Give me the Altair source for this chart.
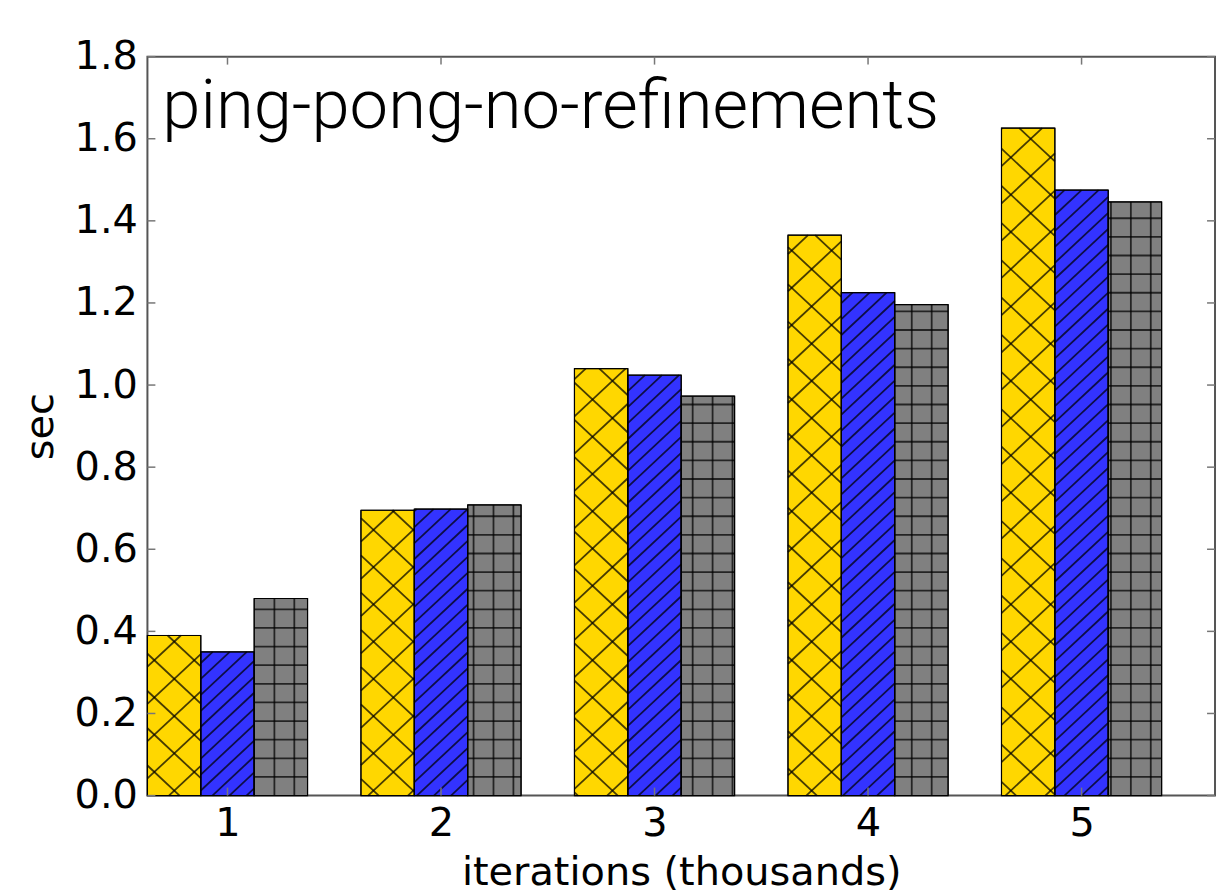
import math
import altair as alt
import pandas as pd

# ---------------- data ----------------
iterations = [1, 2, 3, 4, 5]
series_names = ["yellow", "blue", "gray"]
yellow_vals = [0.39, 0.695, 1.04, 1.365, 1.626]
blue_vals = [0.35, 0.698, 1.024, 1.225, 1.475]
gray_vals = [0.48, 0.708, 0.973, 1.196, 1.446]
bar_colors = ["#FFD700", "#3333FF", "#808080"]
hatch_kinds = ["x", "/", "+"]
y_tick_values = [0.0, 0.2, 0.4, 0.6, 0.8, 1.0, 1.2, 1.4, 1.6, 1.8]
x_tick_values = [1, 2, 3, 4, 5]
chart_label = "ping-pong-no-refinements"
x_title = "iterations (thousands)"
y_title = "sec"

# ---------------- layout ----------------
W, H = 1072, 742
XMIN, XMAX = 0.625, 5.625
YMAX = 1.8
BAR_W = 0.25
offsets = [-0.25, 0.0, 0.25]
SX = W / (XMAX - XMIN)   # px per x unit
SY = H / YMAX            # px per y unit

HX, HY = 20.0, 18.7      # hatch cell size in pixels

values_by_series = [yellow_vals, blue_vals, gray_vals]

bar_rows = []
for s, name in enumerate(series_names):
    for i, it in enumerate(iterations):
        x0 = it + offsets[s] - BAR_W / 2
        bar_rows.append({"series": name, "iteration": it, "x0": x0,
                         "x1": x0 + BAR_W, "value": values_by_series[s][i]})
bars_df = pd.DataFrame(bar_rows)


def clip_line(m, c, px0, px1, top):
    if m > 0:
        lo, hi = (0 - c) / m, (top - c) / m
    else:
        lo, hi = (top - c) / m, (0 - c) / m
    lo, hi = max(lo, px0), min(hi, px1)
    if hi - lo <= 0.5:
        return None
    return (lo, m * lo + c, hi, m * hi + c)


def diag_family(m, step, phase, px0, px1, top):
    segs = []
    corners = [py - m * px for px in (px0, px1) for py in (0, top)]
    cmin, cmax = min(corners), max(corners)
    k0 = math.ceil((cmin - phase) / step)
    k1 = math.floor((cmax - phase) / step)
    for k in range(k0, k1 + 1):
        seg = clip_line(m, phase + k * step, px0, px1, top)
        if seg:
            segs.append(seg)
    return segs


hatch_rows = []
for r in bar_rows:
    s = series_names.index(r["series"])
    kind = hatch_kinds[s]
    px0 = (r["x0"] - XMIN) * SX
    px1 = (r["x1"] - XMIN) * SX
    top = r["value"] * SY
    segs = []
    m = HY / HX
    if kind == "x":
        segs += diag_family(m, 2 * HY, -20.2, px0, px1, top)
        segs += diag_family(-m, 2 * HY, 30.2, px0, px1, top)
    elif kind == "/":
        segs += diag_family(m, 16.0, 3.0, px0, px1, top)
    else:
        k0 = math.ceil((px0 - 7.5) / HX)
        k1 = math.floor((px1 - 7.5) / HX)
        for k in range(k0, k1 + 1):
            px = 7.5 + k * HX
            if px0 + 0.5 < px < px1 - 0.5:
                segs.append((px, 0, px, top))
        k = 1
        while k * HY < top - 0.5:
            segs.append((px0, k * HY, px1, k * HY))
            k += 1
    for (a, b, c, d) in segs:
        hatch_rows.append({"hx": XMIN + a / SX, "hy": b / SY,
                           "hx2": XMIN + c / SX, "hy2": d / SY,
                           "series": r["series"]})
hatch_df = pd.DataFrame(hatch_rows)

xscale = alt.Scale(domain=[XMIN, XMAX], nice=False, zero=False)
yscale = alt.Scale(domain=[0, YMAX], nice=False)

bars = alt.Chart(bars_df).mark_bar(stroke="black", strokeWidth=1).encode(
    x=alt.X("x0:Q", scale=xscale, title=x_title,
            axis=alt.Axis(values=x_tick_values, format="d", title=x_title,
                          labelPadding=8, titlePadding=9, labelFlush=False)),
    x2="x1:Q",
    y=alt.Y("value:Q", scale=yscale, title=y_title,
            axis=alt.Axis(values=y_tick_values, format=".1f", title=y_title,
                          labelPadding=10, titlePadding=14)),
    y2=alt.datum(0),
    color=alt.Color("series:N", scale=alt.Scale(domain=series_names, range=bar_colors),
                    legend=None),
)

hatch = alt.Chart(hatch_df).mark_rule(color="black", strokeWidth=1.8, opacity=0.72).encode(
    x=alt.X("hx:Q", scale=xscale, title=x_title),
    x2="hx2:Q",
    y=alt.Y("hy:Q", scale=yscale, title=y_title),
    y2="hy2:Q",
)

outline = alt.Chart(bars_df).mark_bar(fillOpacity=0, stroke="black", strokeWidth=1.2).encode(
    x=alt.X("x0:Q", scale=xscale, title=x_title),
    x2="x1:Q",
    y=alt.Y("value:Q", scale=yscale, title=y_title),
    y2=alt.datum(0),
)

ytick_df = pd.DataFrame({"v": y_tick_values})
xtick_df = pd.DataFrame({"v": x_tick_values})
tick_style = dict(color="#777777", strokeWidth=1.5)

yticks_left = alt.Chart(ytick_df).mark_rule(**tick_style).encode(
    y=alt.Y("v:Q", scale=yscale, title=y_title), x=alt.value(0), x2=alt.value(8))
yticks_right = alt.Chart(ytick_df).mark_rule(**tick_style).encode(
    y=alt.Y("v:Q", scale=yscale, title=y_title), x=alt.value(W - 8), x2=alt.value(W))
xticks_bottom = alt.Chart(xtick_df).mark_rule(**tick_style).encode(
    x=alt.X("v:Q", scale=xscale, title=x_title), y=alt.value(H - 8), y2=alt.value(H))
xticks_top = alt.Chart(xtick_df).mark_rule(**tick_style).encode(
    x=alt.X("v:Q", scale=xscale, title=x_title), y=alt.value(0), y2=alt.value(8))

label = alt.Chart(pd.DataFrame({"t": [chart_label]})).mark_text(
    align="left", baseline="alphabetic", font="Roboto", fontWeight=300,
    fontSize=69, color="black").encode(
    text="t:N", x=alt.value(15), y=alt.value(72))

chart = alt.layer(bars, hatch, outline, yticks_left, yticks_right,
                  xticks_bottom, xticks_top, label).properties(
    width=W, height=H,
    padding={"left": 140, "top": 47, "right": 2, "bottom": 99},
    autosize=alt.AutoSizeParams(type="none"),
).configure_view(stroke="#555555", strokeWidth=2).configure_axis(
    labelFont="DejaVu Sans", labelFontSize=40, labelColor="black",
    titleFont="DejaVu Sans", titleFontSize=40, titleFontWeight="normal",
    titleColor="black", ticks=False, domain=False, grid=False,
)

chart.save("out.html", embed_options={"renderer": "svg", "actions": False})
